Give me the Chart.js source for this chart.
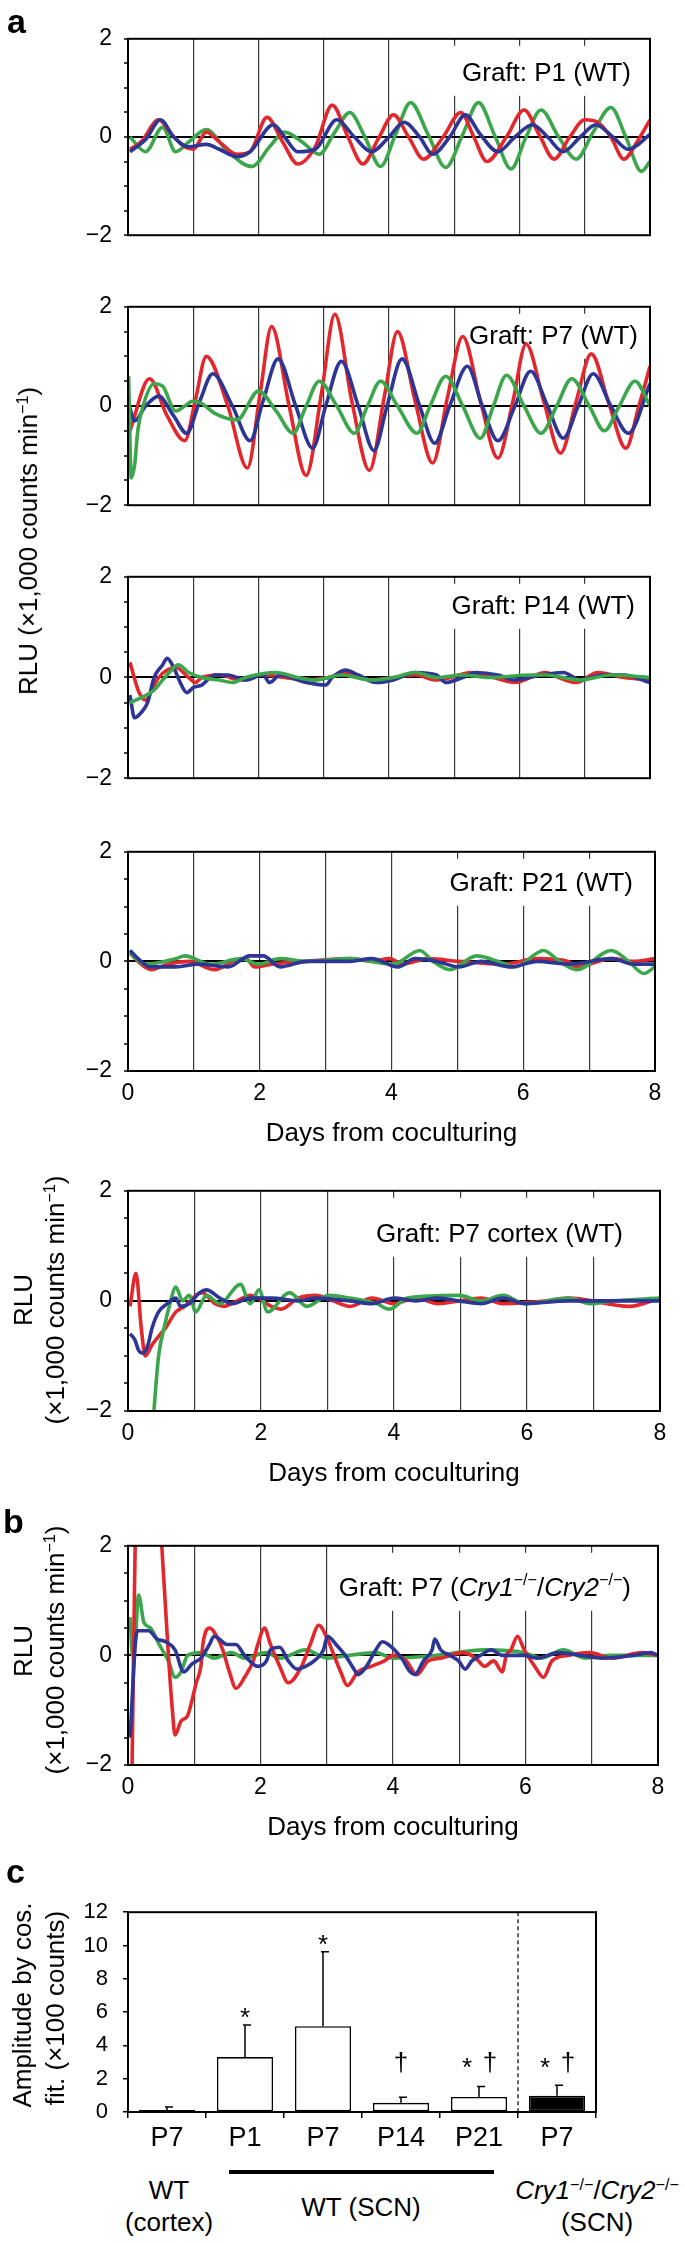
<!DOCTYPE html>
<html><head><meta charset="utf-8">
<script src="https://cdn.jsdelivr.net/npm/chart.js@4.4.1/dist/chart.umd.min.js"></script>
<style>
body{margin:0;background:#fff;}
#wrap{position:relative;width:685px;height:2243px;overflow:hidden;font-family:"Liberation Sans",Arial,Helvetica,sans-serif;color:#000;background:#fff;}
canvas{position:absolute;left:0;}
.t{position:absolute;white-space:nowrap;font-size:26px;line-height:1;transform:translate(-50%,-50%);}
.rot{position:absolute;white-space:nowrap;font-size:26px;line-height:1;transform:translate(-50%,-50%) rotate(-90deg);}
.letter{position:absolute;font-weight:bold;font-size:34px;line-height:1;}
sup{font-size:0.62em;vertical-align:0.55em;line-height:0;}
</style></head>
<body>
<div id="wrap">
<canvas id="c1" width="685" height="248" style="top:13px"></canvas>
<canvas id="c2" width="685" height="250" style="top:281px"></canvas>
<canvas id="c3" width="685" height="253" style="top:551px"></canvas>
<canvas id="c4" width="685" height="325" style="top:826px"></canvas>
<canvas id="c5" width="685" height="326" style="top:1165px"></canvas>
<canvas id="c6" width="685" height="325" style="top:1520px"></canvas>
<canvas id="c7" width="685" height="278" style="top:1884px"></canvas>

<div class="letter" style="left:7px;top:4px">a</div>
<div class="letter" style="left:3px;top:1504px">b</div>
<div class="letter" style="left:6px;top:1854px">c</div>

<div class="rot" style="left:28px;top:541px">RLU (×1,000 counts min<sup>−1</sup>)</div>
<div class="rot" style="left:23px;top:1300px">RLU</div>
<div class="rot" style="left:55px;top:1300px">(×1,000 counts min<sup>−1</sup>)</div>
<div class="rot" style="left:23px;top:1651px">RLU</div>
<div class="rot" style="left:55px;top:1650px">(×1,000 counts min<sup>−1</sup>)</div>
<div class="rot" style="left:22px;top:2005px">Amplitude by cos.</div>
<div class="rot" style="left:55px;top:2008px">fit. (×100 counts)</div>

<div class="t" style="left:169px;top:2190px">WT</div>
<div class="t" style="left:169px;top:2222px">(cortex)</div>
<div style="position:absolute;left:229px;top:2170px;width:265px;height:4px;background:#000"></div>
<div class="t" style="left:361px;top:2207px">WT (SCN)</div>
<div class="t" style="left:597px;top:2190px"><i>Cry1</i><sup>−/−</sup>/<i>Cry2</i><sup>−/−</sup></div>
<div class="t" style="left:597px;top:2222px">(SCN)</div>
</div>

<script>
// ---------- DATA ----------
const xLabelValues = [0, 2, 4, 6, 8];
const yLabelValues = [-2, 0, 2];
const xTitle = 'Days from coculturing';

// Panel a1 : Graft P1 (WT)   [day, RLU x1000]
const p1Red = [[0.03,-0.25],[0.2,-0.1],[0.47,0.35],[0.67,0.05],[0.87,-0.2],[1.0,-0.25],[1.2,0.1],[1.4,-0.1],[1.67,-0.35],[1.87,-0.3],[2.13,0.4],[2.37,-0.1],[2.6,-0.55],[2.87,-0.2],[3.13,0.65],[3.37,0.0],[3.6,-0.55],[3.83,-0.05],[4.07,0.45],[4.3,0.0],[4.53,-0.45],[4.83,0.0],[5.1,0.5],[5.3,0.0],[5.5,-0.5],[5.8,0.0],[6.07,0.55],[6.3,0.05],[6.53,-0.45],[6.77,0.0],[7.0,0.35],[7.2,0.3],[7.4,0.0],[7.6,-0.45],[7.8,-0.1],[8.0,0.35]];
const p1Green = [[0.03,0.0],[0.27,-0.3],[0.53,0.2],[0.73,-0.3],[0.93,-0.1],[1.2,0.15],[1.53,-0.3],[1.9,-0.6],[2.17,-0.2],[2.4,0.1],[2.67,-0.1],[2.93,-0.35],[3.17,0.1],[3.4,0.5],[3.63,0.0],[3.87,-0.6],[4.1,0.05],[4.33,0.7],[4.6,0.05],[4.87,-0.62],[5.13,0.05],[5.37,0.7],[5.63,0.0],[5.87,-0.65],[6.1,0.0],[6.33,0.55],[6.6,0.0],[6.87,-0.45],[7.13,0.1],[7.4,0.6],[7.63,0.0],[7.87,-0.7],[8.0,-0.5]];
const p1Blue = [[0.03,-0.3],[0.27,-0.05],[0.5,0.35],[0.7,0.0],[0.93,-0.2],[1.2,-0.15],[1.4,-0.25],[1.67,-0.4],[1.87,-0.3],[2.23,0.25],[2.4,0.0],[2.6,-0.3],[2.87,-0.25],[3.2,0.35],[3.47,0.0],[3.73,-0.3],[4.0,0.0],[4.23,0.3],[4.47,0.0],[4.67,-0.35],[4.93,0.0],[5.17,0.45],[5.4,0.05],[5.67,-0.3],[5.93,0.0],[6.2,0.25],[6.43,0.0],[6.67,-0.3],[6.93,0.0],[7.17,0.25],[7.43,0.0],[7.67,-0.25],[8.0,0.05]];

// Panel a2 : Graft P7 (WT)
const p2Red = [[0.03,-0.5],[0.33,0.55],[0.6,-0.2],[0.87,-0.7],[1.03,0.1],[1.2,1.0],[1.53,0.0],[1.83,-1.25],[2.03,0.3],[2.2,1.6],[2.47,0.0],[2.73,-1.4],[2.97,0.3],[3.17,1.85],[3.43,0.1],[3.7,-1.3],[3.93,0.2],[4.13,1.5],[4.4,0.1],[4.67,-1.15],[4.9,0.2],[5.13,1.4],[5.4,0.1],[5.67,-1.05],[5.9,0.1],[6.1,1.25],[6.37,0.1],[6.63,-0.95],[6.87,0.1],[7.1,1.05],[7.37,0.05],[7.63,-0.85],[7.83,0.0],[8.0,0.8]];
const p2Blue = [[0.02,0.0],[0.1,-0.3],[0.27,0.0],[0.47,0.2],[0.7,-0.2],[0.9,-0.55],[1.1,0.1],[1.3,0.65],[1.6,0.0],[1.87,-0.7],[2.07,0.1],[2.3,0.95],[2.57,0.0],[2.83,-0.85],[3.03,0.0],[3.27,0.9],[3.53,0.0],[3.77,-0.9],[3.97,0.0],[4.2,0.95],[4.47,0.0],[4.7,-0.75],[4.93,0.0],[5.2,0.8],[5.43,0.0],[5.67,-0.7],[5.93,0.0],[6.17,0.7],[6.43,0.0],[6.67,-0.65],[6.9,0.0],[7.13,0.65],[7.4,0.0],[7.67,-0.55],[8.0,0.45]];
const p2Green = [[0.01,0.6],[0.05,-1.45],[0.1,-1.2],[0.15,-0.5],[0.23,0.0],[0.4,0.45],[0.53,0.4],[0.73,-0.1],[0.87,0.0],[1.0,0.1],[1.13,0.05],[1.33,-0.15],[1.67,-0.28],[2.0,0.3],[2.27,-0.1],[2.53,-0.55],[2.73,0.0],[2.93,0.5],[3.2,0.0],[3.47,-0.55],[3.67,0.0],[3.87,0.5],[4.13,0.0],[4.43,-0.55],[4.63,0.0],[4.87,0.6],[5.13,0.0],[5.4,-0.65],[5.6,0.0],[5.8,0.62],[6.07,0.0],[6.33,-0.55],[6.57,0.0],[6.8,0.55],[7.07,0.0],[7.3,-0.5],[7.53,0.0],[7.77,0.5],[8.0,0.0]];

// Panel a3 : Graft P14 (WT)
const p3Red = [[0.03,0.3],[0.17,-0.3],[0.27,-0.45],[0.4,-0.15],[0.47,0.0],[0.6,0.15],[0.73,0.2],[0.93,0.0],[1.03,-0.1],[1.13,0.0],[1.4,0.05],[1.73,-0.05],[2.07,0.05],[2.4,0.0],[2.73,-0.05],[3.07,0.0],[3.33,0.1],[3.73,-0.05],[4.07,0.0],[4.4,0.05],[4.73,-0.05],[5.27,0.1],[5.6,0.0],[5.93,-0.1],[6.4,0.1],[6.6,0.0],[6.87,-0.1],[7.2,0.1],[7.6,0.0],[8.0,-0.05]];
const p3Blue = [[0.03,-0.35],[0.1,-0.8],[0.2,-0.7],[0.3,-0.5],[0.4,0.0],[0.53,0.25],[0.6,0.38],[0.7,0.2],[0.8,-0.1],[0.9,-0.3],[1.0,-0.2],[1.13,-0.15],[1.33,0.05],[1.53,0.05],[1.8,-0.05],[2.07,0.05],[2.17,-0.1],[2.33,0.05],[2.73,-0.1],[3.03,-0.15],[3.13,0.0],[3.33,0.15],[3.53,0.05],[3.8,-0.1],[4.07,-0.05],[4.4,0.1],[4.73,0.05],[4.87,-0.1],[5.13,0.0],[5.33,0.1],[5.67,0.05],[5.93,-0.05],[6.33,0.05],[6.67,0.1],[6.93,-0.05],[7.27,0.05],[7.6,0.05],[8.0,-0.1]];
const p3Green = [[0.03,-0.5],[0.2,-0.4],[0.4,-0.25],[0.53,-0.05],[0.67,0.15],[0.77,0.25],[0.93,0.1],[1.13,0.0],[1.4,-0.05],[1.6,-0.1],[1.8,0.0],[2.27,0.1],[2.6,0.0],[2.87,-0.05],[3.27,0.05],[3.73,-0.05],[4.07,0.0],[4.4,0.1],[4.73,0.0],[5.13,0.05],[5.53,0.0],[6.2,0.05],[6.4,0.05],[6.93,-0.05],[7.4,0.05],[8.0,0.0]];

// Panel a4 : Graft P21 (WT)
const p4Red = [[0.03,0.15],[0.2,-0.05],[0.36,-0.15],[0.6,-0.05],[0.93,0.0],[1.32,-0.15],[1.59,0.0],[1.79,0.05],[1.92,-0.1],[2.18,-0.05],[2.71,0.0],[3.37,0.05],[3.7,0.0],[3.97,0.05],[4.17,-0.05],[4.56,0.05],[5.02,0.0],[5.69,-0.05],[6.21,0.05],[6.68,0.0],[6.81,-0.1],[7.34,0.05],[7.67,0.0],[8.0,0.05]];
const p4Green = [[0.03,0.15],[0.26,-0.05],[0.73,0.05],[0.86,0.1],[1.26,-0.05],[1.72,0.05],[1.98,-0.05],[2.31,0.05],[2.71,0.0],[3.37,0.05],[4.03,-0.05],[4.43,0.2],[4.63,0.0],[4.89,-0.15],[5.29,0.1],[5.62,0.0],[5.88,-0.1],[6.31,0.2],[6.55,0.0],[6.81,-0.15],[7.34,0.2],[7.6,0.0],[7.83,-0.22],[8.0,-0.1]];
const p4Blue = [[0.03,0.2],[0.2,0.0],[0.33,-0.1],[0.73,-0.1],[1.06,-0.05],[1.52,-0.1],[1.85,0.1],[2.05,0.1],[2.31,-0.1],[2.71,0.0],[3.37,0.0],[3.7,0.05],[4.1,-0.1],[4.36,0.05],[4.69,0.0],[5.02,-0.1],[5.36,0.0],[5.82,-0.1],[6.21,0.0],[6.68,-0.05],[7.34,0.05],[7.67,-0.05],[8.0,-0.05]];

// Panel a5 : Graft P7 cortex (WT)
const p5Red = [[0.03,-0.1],[0.12,0.5],[0.2,-0.5],[0.26,-1.0],[0.36,-0.8],[0.49,-0.6],[0.56,-0.5],[0.72,-0.2],[0.85,-0.1],[1.02,0.1],[1.11,0.15],[1.31,-0.05],[1.44,-0.1],[1.64,0.0],[1.84,0.1],[2.16,-0.1],[2.3,-0.15],[2.56,0.05],[2.82,0.1],[3.08,0.0],[3.34,-0.1],[3.67,0.05],[4.0,-0.05],[4.33,0.05],[4.66,-0.05],[4.98,0.0],[5.31,0.05],[5.64,-0.05],[6.3,0.0],[6.62,0.05],[7.54,-0.1],[8.0,0.05]];
const p5Blue = [[0.03,-0.6],[0.1,-0.7],[0.16,-0.9],[0.23,-0.95],[0.3,-0.8],[0.36,-0.5],[0.46,-0.2],[0.59,-0.05],[0.72,0.05],[0.79,-0.1],[0.92,-0.05],[1.08,0.15],[1.18,0.2],[1.38,0.05],[1.57,-0.05],[1.84,0.05],[2.16,0.05],[2.56,0.0],[2.82,0.05],[3.34,0.0],[3.67,-0.05],[4.0,0.05],[4.33,0.0],[4.66,0.05],[4.98,0.0],[5.31,-0.05],[5.64,0.05],[5.97,-0.05],[6.62,0.0],[7.28,0.0],[8.0,0.0]];
const p5Green = [[0.33,-3.0],[0.39,-2.0],[0.46,-1.0],[0.56,-0.4],[0.62,-0.1],[0.72,0.25],[0.82,0.0],[0.92,0.1],[1.02,-0.2],[1.18,0.1],[1.38,-0.05],[1.69,0.3],[1.84,-0.05],[1.97,0.2],[2.1,-0.2],[2.43,0.15],[2.69,-0.1],[3.02,0.1],[3.34,0.05],[3.74,-0.05],[3.93,-0.15],[4.2,0.05],[4.98,0.1],[5.31,0.0],[5.64,0.1],[5.97,-0.05],[6.62,0.05],[6.95,-0.05],[7.28,0.0],[8.0,0.05]];

// Panel b : Graft P7 (Cry1-/-/Cry2-/-)
const pbRed = [[0.05,-3.0],[0.13,3.0],[0.31,4.0],[0.47,3.0],[0.51,2.0],[0.61,0.0],[0.67,-1.0],[0.71,-1.45],[0.8,-1.2],[0.9,-1.1],[0.97,-0.8],[1.03,-0.5],[1.1,-0.2],[1.13,0.2],[1.23,0.5],[1.36,0.3],[1.43,0.1],[1.53,-0.3],[1.63,-0.6],[1.76,-0.4],[1.89,-0.1],[1.96,0.2],[2.06,0.5],[2.15,0.2],[2.29,-0.2],[2.42,-0.5],[2.62,-0.2],[2.75,0.2],[2.88,0.55],[3.01,0.3],[3.11,0.0],[3.21,-0.3],[3.31,-0.55],[3.47,-0.3],[3.67,-0.2],[3.87,-0.1],[4.0,0.0],[4.2,-0.1],[4.36,-0.35],[4.53,-0.1],[4.72,-0.05],[5.05,0.05],[5.25,-0.05],[5.38,-0.2],[5.52,-0.1],[5.65,-0.3],[5.71,0.0],[5.78,0.1],[5.88,0.35],[5.98,0.1],[6.14,-0.2],[6.27,-0.4],[6.4,-0.1],[6.64,0.0],[6.97,0.05],[7.3,-0.05],[7.76,0.05],[8.0,0.0]];
const pbBlue = [[0.03,-1.5],[0.14,0.45],[0.31,0.45],[0.44,0.3],[0.57,0.25],[0.71,0.1],[0.84,-0.3],[0.97,-0.15],[1.1,-0.05],[1.23,0.2],[1.3,0.35],[1.5,0.2],[1.63,0.2],[1.76,0.0],[1.96,-0.2],[2.09,-0.1],[2.15,0.1],[2.29,0.15],[2.42,-0.1],[2.55,-0.25],[2.68,-0.2],[2.81,-0.1],[2.95,0.1],[3.01,0.35],[3.14,0.2],[3.28,0.0],[3.41,-0.25],[3.47,-0.35],[3.6,-0.2],[3.74,0.1],[3.84,0.25],[3.93,0.2],[4.13,-0.05],[4.26,-0.3],[4.33,-0.35],[4.46,-0.1],[4.59,0.1],[4.63,0.3],[4.72,0.1],[4.86,0.0],[4.99,-0.1],[5.09,-0.25],[5.19,-0.1],[5.32,0.0],[5.48,0.1],[5.65,0.0],[5.98,0.0],[6.17,-0.05],[6.5,0.05],[6.83,0.0],[7.16,-0.05],[7.62,0.0],[7.89,0.05],[8.0,0.0]];
const pbGreen = [[0.03,0.7],[0.07,0.0],[0.11,0.3],[0.16,1.1],[0.24,0.6],[0.34,0.5],[0.47,0.2],[0.61,-0.1],[0.71,-0.4],[0.8,-0.3],[0.9,0.0],[1.1,0.05],[1.3,-0.05],[1.56,0.05],[1.76,-0.05],[2.09,0.05],[2.29,-0.05],[2.68,0.1],[3.01,-0.05],[3.34,0.0],[3.74,0.05],[4.0,-0.05],[4.66,0.0],[5.38,0.1],[5.98,0.05],[6.24,-0.05],[6.57,0.1],[6.9,-0.05],[7.29,0.0],[8.0,0.0]];

// Panel c : amplitude by cosinor fit (x100 counts)
const barCategories = ['P7', 'P1', 'P7', 'P14', 'P21', 'P7'];
const barMeans = [0.12, 3.3, 5.15, 0.55, 0.9, 0.97];
const barSEM = [0.18, 1.93, 4.48, 0.33, 0.63, 0.63];
const barMarks = ['', '*', '*', '†', '*†', '*†'];
const barIsKO = [false, false, false, false, false, true];
const barYTicks = [0, 2, 4, 6, 8, 10, 12];

// ---------- STYLE ----------
const FONT = '"Liberation Sans", Arial, Helvetica, sans-serif';
const RED = '#e2282d', GREEN = '#3ba64b', BLUE = '#2d3694';
Chart.defaults.font.family = FONT;
Chart.defaults.color = '#000';

function drawRich(ctx, segs, right, base, size) {
  const fontOf = s => (s.i ? 'italic ' : '') + (s.s ? size * 0.62 : size) + 'px ' + FONT;
  let total = 0;
  segs.forEach(s => { ctx.font = fontOf(s); total += ctx.measureText(s.t).width; });
  let x = right - total;
  ctx.fillStyle = '#000';
  ctx.textBaseline = 'alphabetic';
  ctx.textAlign = 'left';
  segs.forEach(s => {
    ctx.font = fontOf(s);
    ctx.fillText(s.t, x, s.s ? base - size * 0.4 : base);
    x += ctx.measureText(s.t).width;
  });
}

const panelDeco = {
  id: 'panelDeco',
  beforeDatasetsDraw(chart, args, o) {
    if (!o || !o.label) return;
    const {ctx, chartArea: a, scales: {x}} = chart;
    const bl = x.getPixelForValue(o.boxFrom);
    const baseY = a.top + o.baseline;
    ctx.save();
    ctx.fillStyle = '#fff';
    ctx.fillRect(bl, a.top + 7, a.right - 2 - bl, baseY + 15 - (a.top + 7));
    drawRich(ctx, o.label, a.right - o.inset, baseY, 26);
    ctx.restore();
  },
  afterDraw(chart) {
    const {ctx, chartArea: a} = chart;
    ctx.save();
    ctx.strokeStyle = '#000';
    ctx.lineWidth = 2;
    ctx.strokeRect(a.left, a.top, a.right - a.left, a.bottom - a.top);
    ctx.restore();
  }
};

function linePanel(id, series, opt) {
  return new Chart(document.getElementById(id), {
    type: 'line',
    data: {
      datasets: series.map(s => ({
        data: s[0].map(p => ({x: p[0], y: p[1]})),
        borderColor: s[1], borderWidth: 3.6, pointRadius: 0,
        cubicInterpolationMode: 'monotone', fill: false
      }))
    },
    options: {
      responsive: false, animation: false, devicePixelRatio: 1,
      layout: {padding: {left: 0, right: opt.padRight, top: 12, bottom: opt.xLabels ? 0 : 6}},
      plugins: {legend: {display: false}, tooltip: {enabled: false},
        panelDeco: {label: opt.label, baseline: opt.baseline, inset: opt.inset, boxFrom: opt.boxFrom}},
      scales: {
        x: {
          type: 'linear', min: 0, max: 8,
          afterFit: s => { s.height = opt.xLabels ? 80 : 0; },
          ticks: {display: !!opt.xLabels, stepSize: 1, autoSkip: false, maxRotation: 0, padding: 9,
            color: '#000', font: {size: 23},
            callback: v => xLabelValues.includes(v) ? String(v) : ''},
          grid: {drawTicks: false, color: '#3a3a3a', lineWidth: 1.2},
          border: {display: false},
          title: {display: !!opt.xLabels, text: xTitle, color: '#000', font: {size: 26}, padding: {top: 0, bottom: 2}}
        },
        y: {
          min: -2, max: 2,
          afterFit: s => { s.width = 128; },
          ticks: {stepSize: 0.5, autoSkip: false, padding: 12, color: '#000', font: {size: 23},
            callback: v => yLabelValues.includes(v) ? String(v).replace('-', '−') : ''},
          grid: {color: c => (c.tick && c.tick.value === 0) ? '#000' : 'rgba(0,0,0,0)', lineWidth: 2,
            tickColor: '#000', tickWidth: 1.5, tickLength: 4},
          border: {display: false}
        }
      }
    },
    plugins: [panelDeco]
  });
}

linePanel('c1', [[p1Blue, BLUE], [p1Red, RED], [p1Green, GREEN]],
  {padRight: 35, label: [{t: 'Graft: P1 (WT)'}], baseline: 42, inset: 19, boxFrom: 4.85});
linePanel('c2', [[p2Green, GREEN], [p2Blue, BLUE], [p2Red, RED]],
  {padRight: 35, label: [{t: 'Graft: P7 (WT)'}], baseline: 37, inset: 12, boxFrom: 5.1});
linePanel('c3', [[p3Green, GREEN], [p3Blue, BLUE], [p3Red, RED]],
  {padRight: 35, label: [{t: 'Graft: P14 (WT)'}], baseline: 37, inset: 15, boxFrom: 4.85});
linePanel('c4', [[p4Blue, BLUE], [p4Green, GREEN], [p4Red, RED]],
  {padRight: 30, xLabels: true, label: [{t: 'Graft: P21 (WT)'}], baseline: 39, inset: 22, boxFrom: 4.8});
linePanel('c5', [[p5Blue, BLUE], [p5Green, GREEN], [p5Red, RED]],
  {padRight: 25, xLabels: true, label: [{t: 'Graft: P7 cortex (WT)'}], baseline: 51, inset: 37, boxFrom: 3.6});
linePanel('c6', [[pbBlue, BLUE], [pbRed, RED], [pbGreen, GREEN]],
  {padRight: 27, xLabels: true,
   label: [{t: 'Graft: P7 ('}, {t: 'Cry1', i: 1}, {t: '−/−', s: 1}, {t: '/'}, {t: 'Cry2', i: 1}, {t: '−/−', s: 1}, {t: ')'}],
   baseline: 50, inset: 27, boxFrom: 3.1});

// ---------- BAR PANEL ----------
const barDeco = {
  id: 'barDeco',
  afterDatasetsDraw(chart) {
    const {ctx, chartArea: a, scales: {x, y}} = chart;
    ctx.save();
    const sx = (x.getPixelForValue(4) + x.getPixelForValue(5)) / 2;
    ctx.strokeStyle = '#333'; ctx.lineWidth = 1.5; ctx.setLineDash([4, 3]);
    ctx.beginPath(); ctx.moveTo(sx, a.top); ctx.lineTo(sx, a.bottom); ctx.stroke();
    ctx.setLineDash([]);
    ctx.strokeStyle = '#000'; ctx.lineWidth = 1.5;
    barMeans.forEach((m, i) => {
      const px = x.getPixelForValue(i);
      const yb = y.getPixelForValue(m), yt = y.getPixelForValue(m + barSEM[i]);
      ctx.beginPath(); ctx.moveTo(px, yb); ctx.lineTo(px, yt);
      ctx.moveTo(px - 2, yt); ctx.lineTo(px + 6, yt); ctx.stroke();
      const mk = barMarks[i];
      if (!mk) return;
      const center = Math.min(yt - 14, y.getPixelForValue(3.05));
      ctx.fillStyle = '#000'; ctx.font = '26px ' + FONT; ctx.textAlign = 'center'; ctx.textBaseline = 'alphabetic';
      const chars = mk.split('');
      chars.forEach((ch, k) => {
        const off = chars.length === 1 ? 0 : (k === 0 ? -12 : 11);
        const base = ch === '*' ? center + 15 : center + 10;
        ctx.fillText(ch, px + off, base);
      });
    });
    ctx.restore();
  },
  afterDraw(chart) {
    const {ctx, chartArea: a} = chart;
    ctx.save(); ctx.strokeStyle = '#000'; ctx.lineWidth = 2;
    ctx.strokeRect(a.left, a.top, a.right - a.left, a.bottom - a.top);
    ctx.restore();
  }
};

new Chart(document.getElementById('c7'), {
  type: 'bar',
  data: {
    labels: barCategories,
    datasets: [{
      data: barMeans,
      backgroundColor: barIsKO.map(k => k ? '#000' : '#fff'),
      borderColor: '#000', borderWidth: 1.6, borderSkipped: false,
      barPercentage: 0.72, categoryPercentage: 1
    }]
  },
  options: {
    responsive: false, animation: false, devicePixelRatio: 1,
    layout: {padding: {left: 0, right: 89, top: 12, bottom: 0}},
    plugins: {legend: {display: false}, tooltip: {enabled: false}},
    scales: {
      x: {
        afterFit: s => { s.height = 50; },
        ticks: {color: '#000', font: {size: 27}, padding: 4, autoSkip: false, maxRotation: 0},
        grid: {offset: true, drawOnChartArea: false, tickLength: 6, color: '#000', lineWidth: 1.5},
        border: {display: false}
      },
      y: {
        min: 0, max: 12,
        afterFit: s => { s.width = 128; },
        afterBuildTicks: s => { s.ticks = barYTicks.map(v => ({value: v})); },
        ticks: {padding: 15, color: '#000', font: {size: 22}},
        grid: {drawOnChartArea: false, tickLength: 5, color: '#000', lineWidth: 1.5},
        border: {display: false}
      }
    }
  },
  plugins: [barDeco]
});
</script>
</body></html>
